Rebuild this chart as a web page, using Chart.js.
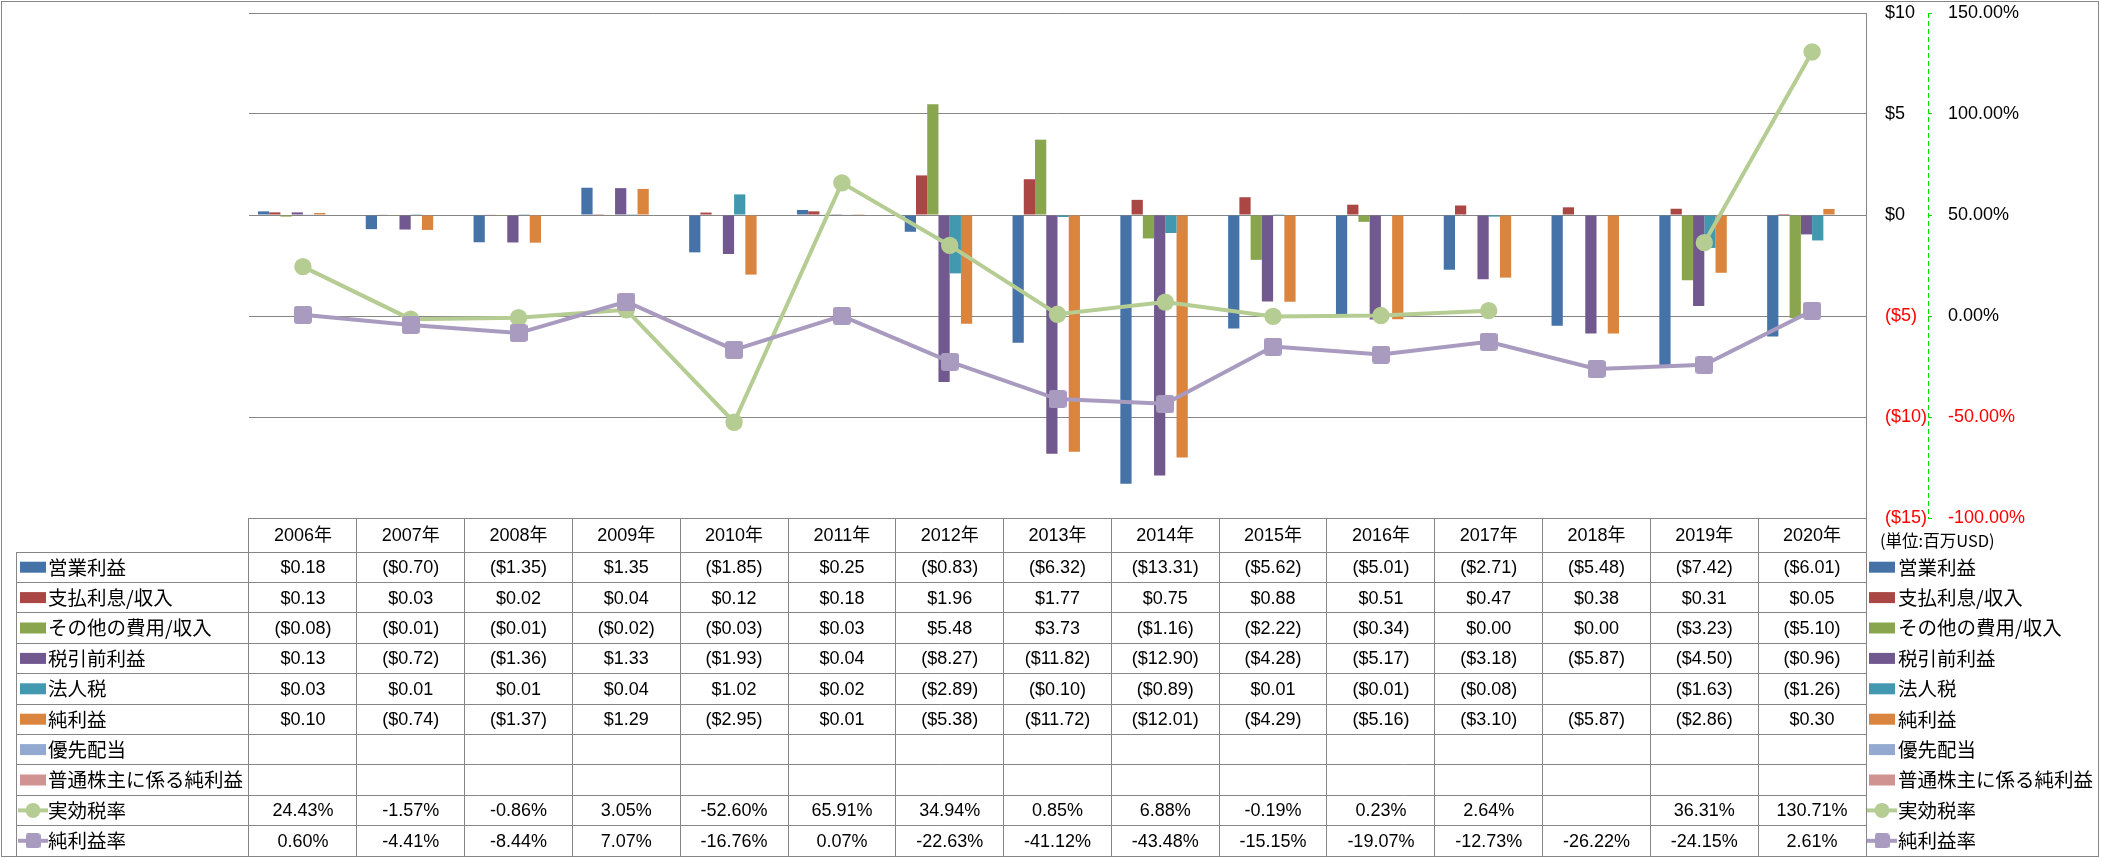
<!DOCTYPE html>
<html><head><meta charset="utf-8">
<script src="https://cdn.jsdelivr.net/npm/chart.js@4.4.1/dist/chart.umd.min.js"></script>
<style>html,body{margin:0;padding:0;background:#fff}canvas{display:block}</style>
</head><body>
<canvas id="c" width="2101" height="858" style="width:2101px;height:858px"></canvas>
<script>
const categories = ['2006年','2007年','2008年','2009年','2010年','2011年','2012年','2013年','2014年','2015年','2016年','2017年','2018年','2019年','2020年'];
const operatingIncome = [0.18,-0.70,-1.35,1.35,-1.85,0.25,-0.83,-6.32,-13.31,-5.62,-5.01,-2.71,-5.48,-7.42,-6.01];
const interestIncome  = [0.13,0.03,0.02,0.04,0.12,0.18,1.96,1.77,0.75,0.88,0.51,0.47,0.38,0.31,0.05];
const otherIncome     = [-0.08,-0.01,-0.01,-0.02,-0.03,0.03,5.48,3.73,-1.16,-2.22,-0.34,0.00,0.00,-3.23,-5.10];
const pretaxIncome    = [0.13,-0.72,-1.36,1.33,-1.93,0.04,-8.27,-11.82,-12.90,-4.28,-5.17,-3.18,-5.87,-4.50,-0.96];
const incomeTax       = [0.03,0.01,0.01,0.04,1.02,0.02,-2.89,-0.10,-0.89,0.01,-0.01,-0.08,null,-1.63,-1.26];
const netIncome       = [0.10,-0.74,-1.37,1.29,-2.95,0.01,-5.38,-11.72,-12.01,-4.29,-5.16,-3.10,-5.87,-2.86,0.30];
const preferredDiv    = [null,null,null,null,null,null,null,null,null,null,null,null,null,null,null];
const commonNetIncome = [null,null,null,null,null,null,null,null,null,null,null,null,null,null,null];
const effectiveTaxRate = [24.43,-1.57,-0.86,3.05,-52.60,65.91,34.94,0.85,6.88,-0.19,0.23,2.64,null,36.31,130.71];
const netMargin        = [0.60,-4.41,-8.44,7.07,-16.76,0.07,-22.63,-41.12,-43.48,-15.15,-19.07,-12.73,-26.22,-24.15,2.61];
const yTicks  = {min:-15, max:10, step:5};
const y2Ticks = {min:-100, max:150, step:50};
const unitLabel = '(単位:百万USD)';

const FONT = "'Liberation Sans', 'Noto Sans CJK JP', sans-serif";
const JFONT = "'Noto Sans CJK JP', sans-serif";
const GRID = '#868686';
const AXIS2 = '#00E000';

function squareImg(size, color){
  const c = document.createElement('canvas'); c.width = size; c.height = size;
  const g = c.getContext('2d'); g.fillStyle = color;
  const r = 3; g.beginPath();
  g.moveTo(r,0); g.lineTo(size-r,0); g.quadraticCurveTo(size,0,size,r);
  g.lineTo(size,size-r); g.quadraticCurveTo(size,size,size-r,size);
  g.lineTo(r,size); g.quadraticCurveTo(0,size,0,size-r);
  g.lineTo(0,r); g.quadraticCurveTo(0,0,r,0); g.fill();
  return c;
}
const GREEN_LINE = '#B5CD93';
const PURPLE_LINE = '#A99BBF';

const fmtMoney = v => v == null ? '' : (v < 0 ? '($' + Math.abs(v).toFixed(2) + ')' : '$' + v.toFixed(2));
const fmtPct = v => v == null ? '' : v.toFixed(2) + '%';

const bar = (label, data, color) => ({type:'bar', label, data, backgroundColor:color, borderWidth:0, yAxisID:'y', order:2, fmt:fmtMoney});
const datasets = [
  bar('営業利益', operatingIncome, '#4572A7'),
  bar('支払利息/収入', interestIncome, '#AA4643'),
  bar('その他の費用/収入', otherIncome, '#89A54E'),
  bar('税引前利益', pretaxIncome, '#71588F'),
  bar('法人税', incomeTax, '#4198AF'),
  bar('純利益', netIncome, '#DB843D'),
  bar('優先配当', preferredDiv, '#93A9CF'),
  bar('普通株主に係る純利益', commonNetIncome, '#D19392'),
  {type:'line', label:'実効税率', data:effectiveTaxRate, yAxisID:'y2', order:1, borderColor:GREEN_LINE, backgroundColor:GREEN_LINE,
   borderWidth:4, pointStyle:'circle', pointRadius:8.7, pointBorderWidth:0, pointBackgroundColor:GREEN_LINE, spanGaps:false, tension:0, fmt:fmtPct, marker:'circle'},
  {type:'line', label:'純利益率', data:netMargin, yAxisID:'y2', order:0, borderColor:PURPLE_LINE, backgroundColor:PURPLE_LINE,
   borderWidth:4, pointStyle:squareImg(18, PURPLE_LINE), pointRadius:9, spanGaps:false, tension:0, fmt:fmtPct, marker:'square'}
];

function drawKey(ctx, ds, x0, cy){
  if (ds.type === 'line') {
    ctx.strokeStyle = ds.borderColor; ctx.lineWidth = 4;
    ctx.beginPath(); ctx.moveTo(x0 - 2, cy); ctx.lineTo(x0 + 28, cy); ctx.stroke();
    ctx.fillStyle = ds.borderColor;
    if (ds.marker === 'circle') { ctx.beginPath(); ctx.arc(x0 + 13, cy, 7.5, 0, Math.PI*2); ctx.fill(); }
    else { ctx.drawImage(squareImg(15, ds.borderColor), x0 + 13 - 7.5, cy - 7.5); }
  } else {
    ctx.fillStyle = ds.backgroundColor; ctx.fillRect(x0, cy - 5.5, 26, 11);
  }
}

const tablePlugin = {
  id:'dataTable',
  afterDraw(chart){
    const ctx = chart.ctx, xs = chart.scales.x, area = chart.chartArea, y2 = chart.scales.y2;
    const step = xs.getPixelForValue(1) - xs.getPixelForValue(0);
    const colLeft = i => xs.getPixelForValue(i) - step/2;
    const n = categories.length;
    const headerTop = area.bottom, headerBottom = area.bottom + 34, rowH = 30.4;
    const dsList = chart.data.datasets;
    const tableBottom = headerBottom + rowH * dsList.length;
    const labelLeft = 16.5;
    const crisp = v => Math.round(v - 0.5) + 0.5;
    ctx.save();
    // dashed secondary axis line
    ctx.strokeStyle = AXIS2; ctx.lineWidth = 1; ctx.setLineDash([5,3]);
    ctx.beginPath(); ctx.moveTo(crisp(y2.left), y2.top); ctx.lineTo(crisp(y2.left), y2.bottom); ctx.stroke();
    ctx.setLineDash([]);
    ctx.strokeStyle = GRID; ctx.lineWidth = 1;
    ctx.strokeRect(1.5, 1.5, 2097, 855);
    ctx.beginPath();
    ctx.moveTo(colLeft(0), crisp(headerTop)); ctx.lineTo(area.right, crisp(headerTop));
    for (let r = 0; r <= dsList.length; r++) {
      const y = crisp(headerBottom + r * rowH);
      ctx.moveTo(labelLeft, y); ctx.lineTo(area.right, y);
    }
    ctx.moveTo(labelLeft, headerBottom); ctx.lineTo(labelLeft, tableBottom);
    for (let i = 0; i <= n; i++) {
      const x = crisp(colLeft(i));
      ctx.moveTo(x, headerTop); ctx.lineTo(x, tableBottom);
    }
    ctx.stroke();
    ctx.fillStyle = '#000'; ctx.textBaseline = 'middle'; ctx.textAlign = 'center';
    ctx.font = '18px ' + FONT;
    categories.forEach((c, i) => ctx.fillText(c, xs.getPixelForValue(i), (headerTop + headerBottom)/2 + 1));
    dsList.forEach((ds, r) => {
      const cy = headerBottom + r * rowH + rowH/2;
      ctx.textAlign = 'center'; ctx.fillStyle = '#000'; ctx.font = '18px ' + FONT;
      ds.data.forEach((v, i) => ctx.fillText(ds.fmt(v), xs.getPixelForValue(i), cy + 1));
      drawKey(ctx, ds, 20, cy);
      drawKey(ctx, ds, 1869, cy);
      ctx.fillStyle = '#000'; ctx.textAlign = 'left'; ctx.font = '19.5px ' + JFONT;
      ctx.fillText(ds.label, 48, cy);
      ctx.fillText(ds.label, 1898, cy);
    });
    ctx.font = '16.5px ' + JFONT; ctx.textAlign = 'left';
    ctx.fillText(unitLabel, 1880, (headerTop + headerBottom)/2 + 6);
    ctx.restore();
  }
};

new Chart(document.getElementById('c'), {
  data: {labels: categories, datasets},
  plugins: [tablePlugin],
  options: {
    responsive:false, animation:false, devicePixelRatio:1,
    layout:{padding:{left:249, top:13, right:0, bottom:340}},
    plugins:{legend:{display:false}, tooltip:{enabled:false}},
    datasets:{bar:{categoryPercentage:0.834, barPercentage:1.0}},
    scales:{
      x:{display:false, offset:true},
      y:{position:'right', min:yTicks.min, max:yTicks.max,
         ticks:{stepSize:yTicks.step, padding:19, font:{family:FONT, size:18},
                color:c => c.tick.value < 0 ? '#FF0000' : '#000000',
                callback:v => v < 0 ? '($' + Math.abs(v) + ')' : '$' + v},
         grid:{color:GRID, lineWidth:1, drawTicks:false},
         border:{color:GRID, width:1},
         afterFit:s => { s.width = 62; s.paddingTop = 0; s.paddingBottom = 0; }},
      y2:{position:'right', min:y2Ticks.min, max:y2Ticks.max,
         ticks:{stepSize:y2Ticks.step, padding:16, font:{family:FONT, size:18},
                color:c => c.tick.value < 0 ? '#FF0000' : '#000000',
                callback:v => Number(v).toFixed(2) + '%'},
         grid:{drawOnChartArea:false, drawTicks:true, tickLength:4, color:AXIS2, lineWidth:1},
         border:{display:false},
         afterFit:s => { s.width = 173; s.paddingTop = 0; s.paddingBottom = 0; }}
    }
  }
});
</script>
</body></html>
